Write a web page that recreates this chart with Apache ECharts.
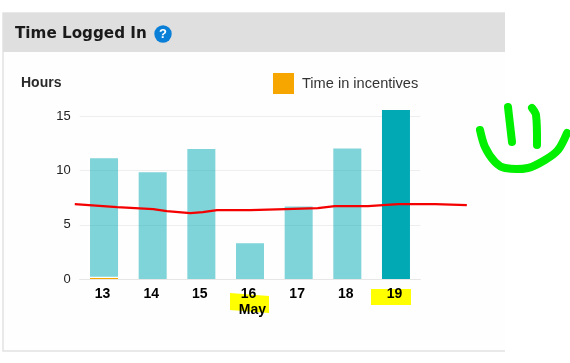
<!DOCTYPE html>
<html>
<head>
<meta charset="utf-8">
<style>html,body{margin:0;padding:0;background:#fff}#c{width:570px;height:363px}</style>
<script src="https://cdn.jsdelivr.net/npm/echarts@6/dist/echarts.min.js"></script>
</head>
<body>
<div id="c"></div>
<script>
const categories = ['13', '14', '15', '16\n\u00a0\u00a0May', '17', '18', '19'];
const timeInIncentives = [0.1, 0, 0, 0, 0, 0, 0];
const stripGap = [0.1, 0, 0, 0, 0, 0, 0];
const timeLoggedIn = [10.95, 9.85, 12.0, 3.3, 6.7, 12.05, 15.6];
const trendDays = [12.4, 13.27, 14.01, 14.29, 14.77, 15.03, 15.32, 16.0, 16.72, 17.39, 17.74, 18.42, 19.04, 19.8, 20.45];
const trendHours = [6.91, 6.64, 6.45, 6.27, 6.08, 6.17, 6.36, 6.36, 6.45, 6.54, 6.72, 6.72, 6.91, 6.91, 6.82];
const highlightIndex = 6;

const chart = echarts.init(document.getElementById('c'), null, {renderer: 'canvas'});
const ink = (points, color, width) => ({
  type: 'polyline', z: 20, silent: true,
  shape: {points, smooth: 0.3},
  style: {stroke: color, lineWidth: width, lineCap: 'round', lineJoin: 'round', fill: null}
});
chart.setOption({
  animation: false,
  backgroundColor: '#fff',
  title: [
    {text: 'Time Logged In', left: 15, top: 27, textStyle: {fontFamily: 'DejaVu Sans', fontWeight: 'bold', fontSize: 15.2, color: '#1a1a1a'}, padding: 0},
    {text: 'Hours', left: 21, top: 76, textStyle: {fontFamily: 'Liberation Sans', fontWeight: 'bold', fontSize: 14, color: '#2a2a2a'}, padding: 0}
  ],
  legend: {
    left: 273, top: 73, padding: 0, itemWidth: 21, itemHeight: 21, itemGap: 0,
    data: [{name: 'Time in incentives', icon: 'rect'}],
    selectedMode: false,
    textStyle: {fontFamily: 'Liberation Sans', fontSize: 14.6, color: '#333', padding: [0, 0, 2, 3]}
  },
  grid: [
    {left: 79.7, right: 149.7, top: 116.5, bottom: 84},
    {left: 70, right: 100, top: 116.5, bottom: 84}
  ],
  xAxis: [
    {type: 'category', data: categories, gridIndex: 0,
     axisLine: {lineStyle: {color: '#e6e6e6'}}, axisTick: {show: false},
     axisLabel: {color: '#000', fontFamily: 'Liberation Sans', fontWeight: 'bold', fontSize: 14, margin: 7, lineHeight: 16, interval: 0, padding: [0, 3, 0, 0]}},
    {type: 'value', gridIndex: 1, min: 12.302, max: 20.515, show: false}
  ],
  yAxis: [
    {type: 'value', gridIndex: 0, min: 0, max: 15, interval: 5,
     axisLine: {show: false}, axisTick: {show: false},
     splitLine: {lineStyle: {color: '#eeeeee'}},
     axisLabel: {color: '#222', fontFamily: 'Liberation Sans', fontSize: 13, margin: 9}},
    {type: 'value', gridIndex: 1, min: 0, max: 15, show: false}
  ],
  series: [
    {name: 'Time in incentives', type: 'bar', stack: 't', barWidth: 28, clip: false, data: timeInIncentives, itemStyle: {color: '#f7a600'}},
    {name: 'gap', type: 'bar', stack: 't', barWidth: 28, clip: false, data: stripGap, itemStyle: {color: '#fff'}},
    {name: 'Time logged in', type: 'bar', stack: 't', barWidth: 28, clip: false,
     data: timeLoggedIn.map((v, i) => i === highlightIndex ? {value: v, itemStyle: {color: '#00a9b3', opacity: 1}} : v),
     itemStyle: {color: '#00a9b3', opacity: 0.5}},
    {name: 'Trend', type: 'line', xAxisIndex: 1, yAxisIndex: 1, z: 10, clip: false, symbol: 'none',
     lineStyle: {color: '#f40000', width: 2.3}, data: trendDays.map((d, i) => [d, trendHours[i]])}
  ],
  graphic: [
    {type: 'rect', z: -10, silent: true, shape: {x: 3, y: 13, width: 510, height: 338},
     style: {fill: '#fefefe', stroke: '#e2e2e2', lineWidth: 1.5}},
    {type: 'rect', z: -9, silent: true, shape: {x: 3, y: 13, width: 502, height: 39}, style: {fill: '#dfdfdf'}},
    {type: 'rect', z: -8, silent: true, shape: {x: 505, y: 0, width: 65, height: 363}, style: {fill: '#fff'}},
    {type: 'circle', z: 5, silent: true, shape: {cx: 163, cy: 34, r: 8.7}, style: {fill: '#0a7fd8'}},
    {type: 'text', z: 6, silent: true, style: {x: 163, y: 34, text: '?', align: 'center', verticalAlign: 'middle', fill: '#fff', font: 'bold 13px "Liberation Sans"'}},
    {type: 'polygon', z: -5, silent: true, shape: {points: [[230, 293], [269, 296], [269, 313], [230, 310]]}, style: {fill: '#ffff00'}},
    {type: 'rect', z: -5, silent: true, shape: {x: 371, y: 289, width: 40, height: 16}, style: {fill: '#ffff00'}},
    ink([[480, 130], [485, 147], [495, 162], [505, 168], [528, 168], [545, 160], [558, 150], [567, 133]], '#00f000', 8),
    ink([[508, 107], [512, 142]], '#00f000', 8),
    ink([[532, 108], [536, 115], [537, 145]], '#00f000', 8)
  ]
});
</script>
</body>
</html>
